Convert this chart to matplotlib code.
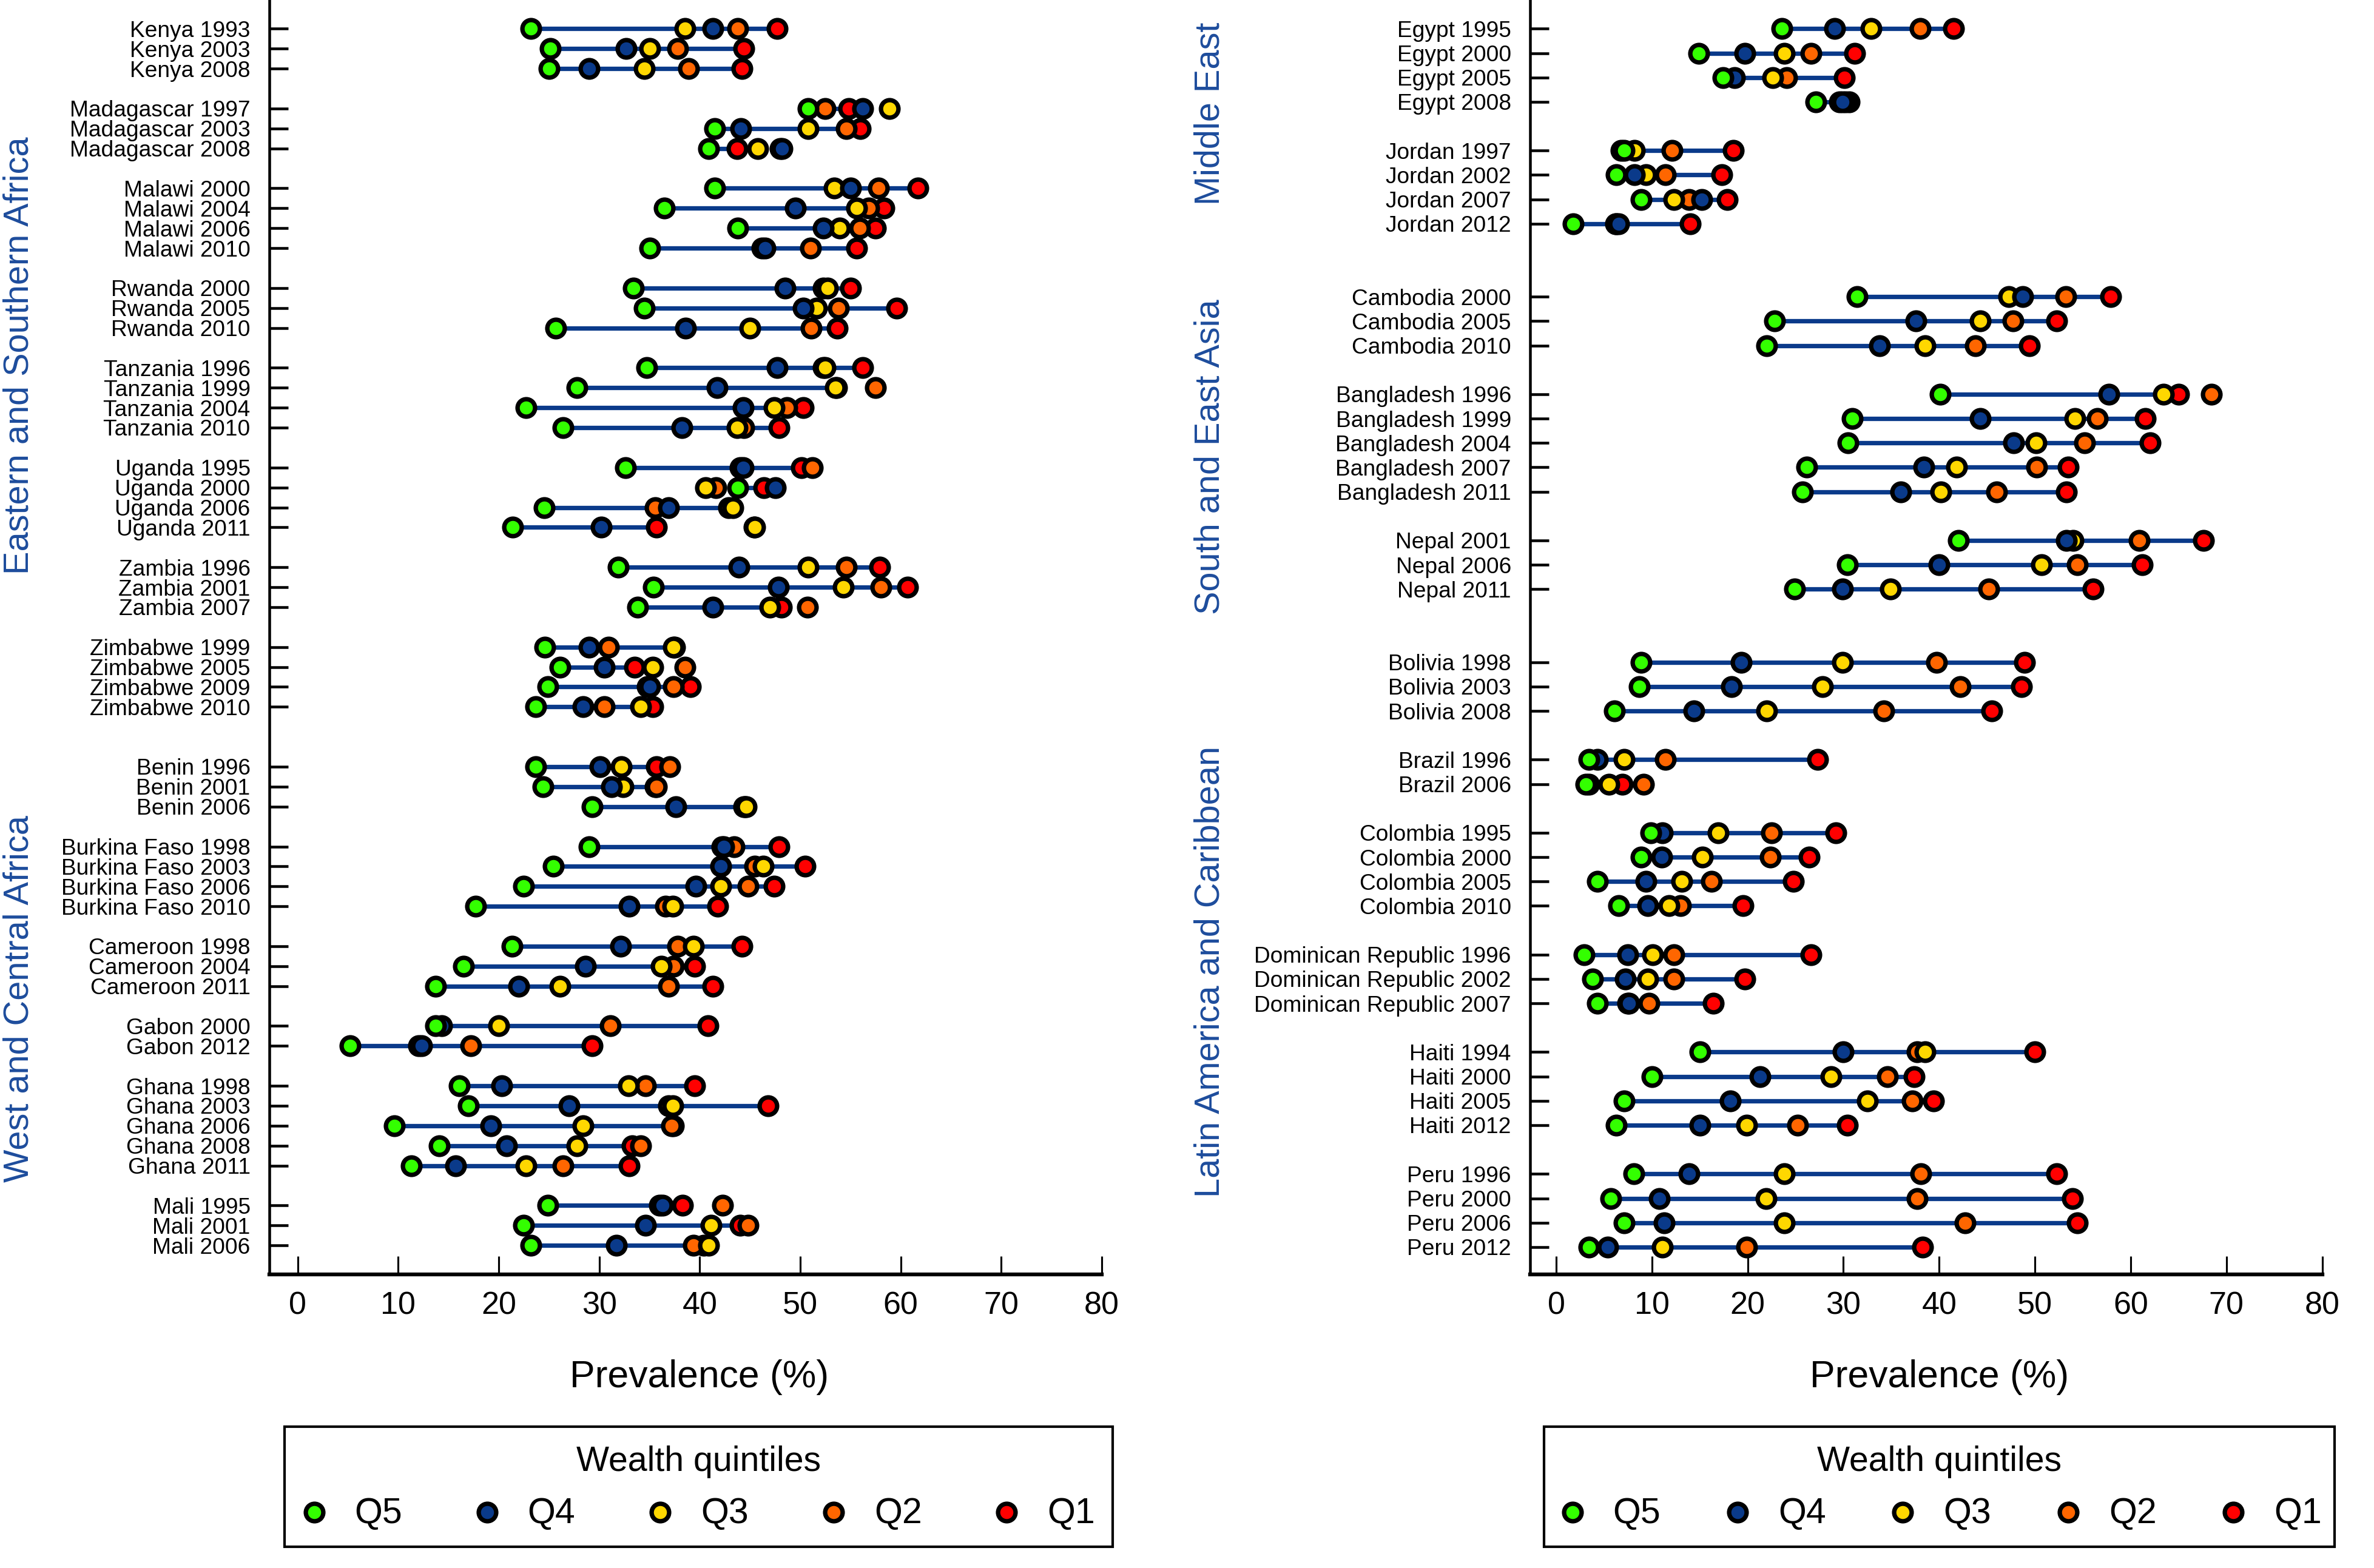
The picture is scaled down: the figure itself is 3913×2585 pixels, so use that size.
import matplotlib
matplotlib.use('Agg')
import matplotlib.pyplot as plt
from matplotlib.patches import Rectangle

plt.rcParams['font.family'] = ['Liberation Sans', 'DejaVu Sans']

# ---------------- data ----------------
quintile_names = ['Q5', 'Q4', 'Q3', 'Q2', 'Q1']
quintile_colors = ['#33ff00', '#0a3a8a', '#ffd700', '#ff6600', '#ff0000']

left_regions = ['Eastern and Southern Africa', 'West and Central Africa']
left_countries = [
    ['Kenya', 'Madagascar', 'Malawi', 'Rwanda', 'Tanzania', 'Uganda', 'Zambia', 'Zimbabwe'],
    ['Benin', 'Burkina Faso', 'Cameroon', 'Gabon', 'Ghana', 'Mali'],
]
left_years = {
    'Kenya': [1993, 2003, 2008], 'Madagascar': [1997, 2003, 2008],
    'Malawi': [2000, 2004, 2006, 2010], 'Rwanda': [2000, 2005, 2010],
    'Tanzania': [1996, 1999, 2004, 2010], 'Uganda': [1995, 2000, 2006, 2011],
    'Zambia': [1996, 2001, 2007], 'Zimbabwe': [1999, 2005, 2009, 2010],
    'Benin': [1996, 2001, 2006], 'Burkina Faso': [1998, 2003, 2006, 2010],
    'Cameroon': [1998, 2004, 2011], 'Gabon': [2000, 2012],
    'Ghana': [1998, 2003, 2006, 2008, 2011], 'Mali': [1995, 2001, 2006],
}
left_q5 = [23.2, 25.1, 25.0, 50.8, 41.5, 40.9, 41.5, 36.5, 43.8, 35.0, 33.4, 34.5, 25.7,
           34.7, 27.8, 22.7, 26.4, 32.6, 43.8, 24.5, 21.4, 31.9, 35.4, 33.8, 24.6, 26.1,
           24.9, 23.7, 23.7, 24.4, 29.3, 29.0, 25.4, 22.5, 17.7, 21.3, 16.5, 13.7, 13.7,
           5.2, 16.1, 17.0, 9.6, 14.1, 11.3, 24.9, 22.5, 23.2]
left_q4 = [41.3, 32.7, 29.0, 56.2, 44.1, 48.2, 55.0, 49.5, 52.3, 46.5, 48.5, 50.3, 38.6,
           47.7, 41.7, 44.3, 38.2, 44.3, 47.5, 36.9, 30.2, 43.9, 47.8, 41.3, 29.0, 30.5,
           35.0, 28.4, 30.1, 31.2, 37.6, 42.4, 42.1, 39.6, 33.0, 32.1, 28.6, 22.0, 14.3,
           12.3, 20.3, 27.0, 19.2, 20.8, 15.7, 36.3, 34.6, 31.7]
left_q3 = [38.5, 35.0, 34.5, 58.9, 50.8, 45.8, 53.4, 55.6, 53.9, 46.2, 52.7, 51.6, 45.0,
           52.5, 53.5, 47.4, 43.7, 44.0, 40.6, 43.3, 45.5, 50.8, 54.3, 47.0, 37.4, 35.3,
           34.8, 34.1, 32.2, 32.4, 44.6, 42.2, 46.3, 42.1, 37.3, 39.4, 36.2, 26.1, 20.0,
           12.0, 32.9, 37.3, 28.4, 27.8, 22.7, 36.0, 41.1, 40.9]
left_q2 = [43.8, 37.8, 38.9, 52.5, 54.6, 48.0, 57.8, 56.8, 55.9, 51.0, 52.3, 53.8, 51.1,
           52.3, 57.5, 48.7, 44.4, 51.2, 41.6, 35.6, 45.4, 54.6, 58.0, 50.7, 30.9, 38.5,
           37.4, 30.5, 37.0, 35.7, 44.5, 43.4, 45.5, 44.8, 36.6, 37.8, 37.4, 36.9, 31.1,
           17.2, 34.6, 36.9, 37.2, 34.1, 26.4, 42.3, 44.8, 39.4]
left_q1 = [47.7, 44.4, 44.2, 54.8, 56.0, 43.7, 61.7, 58.3, 57.5, 55.6, 55.0, 59.6, 53.7,
           56.2, 53.6, 50.3, 47.9, 50.1, 46.4, 42.9, 35.7, 57.9, 60.7, 48.1, 37.5, 33.5,
           39.1, 35.3, 35.7, 35.6, 44.4, 47.9, 50.5, 47.4, 41.8, 44.2, 39.5, 41.3, 40.8,
           29.3, 39.5, 46.8, 37.4, 33.3, 33.0, 38.3, 44.0, 40.4]

right_regions = ['Middle East', 'South and East Asia', 'Latin America and Caribbean']
right_countries = [
    ['Egypt', 'Jordan'],
    ['Cambodia', 'Bangladesh', 'Nepal'],
    ['Bolivia', 'Brazil', 'Colombia', 'Dominican Republic', 'Haiti', 'Peru'],
]
right_years = {
    'Egypt': [1995, 2000, 2005, 2008], 'Jordan': [1997, 2002, 2007, 2012],
    'Cambodia': [2000, 2005, 2010], 'Bangladesh': [1996, 1999, 2004, 2007, 2011],
    'Nepal': [2001, 2006, 2011], 'Bolivia': [1998, 2003, 2008], 'Brazil': [1996, 2006],
    'Colombia': [1995, 2000, 2005, 2010], 'Dominican Republic': [1996, 2002, 2007],
    'Haiti': [1994, 2000, 2005, 2012], 'Peru': [1996, 2000, 2006, 2012],
}
right_q5 = [23.6, 14.9, 17.4, 27.1, 7.1, 6.3, 8.9, 1.8, 31.4, 22.8, 22.0, 40.1, 30.9,
            30.5, 26.2, 25.7, 42.0, 30.4, 24.9, 8.9, 8.7, 6.1, 3.4, 3.1, 9.9, 8.9, 4.3,
            6.5, 2.9, 3.8, 4.3, 15.0, 10.0, 7.1, 6.3, 8.1, 5.7, 7.1, 3.4]
right_q4 = [29.1, 19.7, 18.6, 29.9, 6.8, 8.2, 15.2, 6.5, 48.7, 37.6, 33.8, 57.7, 44.3,
            47.8, 38.4, 36.0, 53.3, 40.0, 29.9, 19.3, 18.3, 14.4, 4.3, 3.4, 11.1, 11.0, 9.4,
            9.6, 7.5, 7.2, 7.6, 30.0, 21.3, 18.2, 15.0, 13.9, 10.8, 11.3, 5.4]
right_q3 = [32.9, 23.8, 22.6, 30.2, 8.2, 9.4, 12.3, 6.3, 47.3, 44.3, 38.5, 63.4, 54.2,
            50.1, 41.8, 40.2, 54.0, 50.7, 34.9, 29.9, 27.8, 22.0, 7.1, 5.5, 16.9, 15.3, 13.1,
            11.8, 10.1, 9.6, 7.5, 38.5, 28.7, 32.5, 19.9, 23.8, 21.9, 23.8, 11.1]
right_q2 = [38.0, 26.6, 24.1, 30.6, 12.1, 11.4, 13.9, 6.2, 53.2, 47.7, 43.8, 68.4, 56.5,
            55.2, 50.2, 46.0, 60.9, 54.4, 45.2, 39.7, 42.2, 34.2, 11.4, 9.1, 22.5, 22.4, 16.2,
            13.0, 12.3, 12.3, 9.7, 37.7, 34.6, 37.2, 25.2, 38.1, 37.7, 42.7, 19.9]
right_q1 = [41.5, 31.2, 30.1, 29.6, 18.5, 17.3, 17.9, 14.0, 57.9, 52.3, 49.4, 65.0, 61.5,
            62.0, 53.5, 53.3, 67.6, 61.2, 56.1, 48.9, 48.6, 45.5, 27.3, 6.9, 29.2, 26.4, 24.8,
            19.5, 26.6, 19.7, 16.4, 50.0, 37.4, 39.4, 30.4, 52.3, 53.9, 54.4, 38.3]

x_ticks = [0, 10, 20, 30, 40, 50, 60, 70, 80]
x_label = 'Prevalence (%)'
legend_title = 'Wealth quintiles'

# ---------------- helpers ----------------
W, H = 1568.0, 1036.0          # layout reference units (px of preview)
LINE_COLOR = '#0a3a8a'
REGION_COLOR = '#1d4c9c'


def fx(x):
    return x / W


def fy(y):
    return 1 - y / H


def build_rows(countries_by_region, years):
    pos, labels = [], []
    p = 0
    for ri, countries in enumerate(countries_by_region):
        if ri > 0:
            p += 2
        for ci, c in enumerate(countries):
            if ci > 0:
                p += 1
            for yr in years[c]:
                labels.append(f'{c} {yr}')
                pos.append(p)
                p += 1
    return pos, labels


def draw_panel(ax, countries, years, qs, ylim, xlim):
    pos, labels = build_rows(countries, years)
    q5, q4, q3, q2, q1 = qs
    ax.hlines(pos, q5, q1, colors=LINE_COLOR, lw=2.1, zorder=2)
    # draw poorest first so that Q5 ends on top
    for k in [4, 3, 2, 1, 0]:
        ax.plot(qs[k], pos, linestyle='none', marker='o', ms=8.3, mew=2.1,
                mec='black', mfc=quintile_colors[k], zorder=3 + (4 - k), clip_on=False)
    ax.set_ylim(*ylim)
    ax.set_xlim(*xlim)
    ax.set_yticks(pos)
    ax.set_yticklabels(labels)
    ax.set_xticks(x_ticks)
    ax.set_xticklabels([str(t) for t in x_ticks])
    ax.tick_params(axis='y', direction='in', length=9, width=1.3, pad=9, labelsize=10.7)
    ax.tick_params(axis='x', direction='in', length=8.6, width=0.9, pad=8, labelsize=15)
    for s in ['top', 'right']:
        ax.spines[s].set_visible(False)
    ax.spines['left'].set_linewidth(1.3)
    ax.spines['bottom'].set_linewidth(1.8)
    ax.set_facecolor('none')


fig = plt.figure(figsize=(3913 / 250, 2585 / 250), dpi=250)

axL = fig.add_axes([0.11344, 0.1873, 0.46409 - 0.11344, 1 - 0.1873])
axR = fig.add_axes([0.64452, 0.1873, 0.97818 - 0.64452, 1 - 0.1873])

draw_panel(axL, left_countries, left_years,
           [left_q5, left_q4, left_q3, left_q2, left_q1], (62.45, -1.44), (-2.83, 80))
draw_panel(axR, right_countries, right_years,
           [right_q5, right_q4, right_q3, right_q2, right_q1], (51.12, -1.18), (-2.72, 80))

# region labels
region_layout = [(left_regions[0], 12.5, 235), (left_regions[1], 12.5, 660),
                 (right_regions[0], 799.4, 75), (right_regions[1], 799.4, 302),
                 (right_regions[2], 799.4, 642)]
for name, x, y in region_layout:
    fig.text(fx(x), fy(y), name, rotation=90, ha='center', va='center',
             fontsize=16.6, color=REGION_COLOR)

# x labels
for cx in [462, 1281]:
    fig.text(fx(cx), fy(916.5), x_label, ha='center', va='baseline', fontsize=18)

# legends (drawn in an overlay in preview px units)
ov = fig.add_axes([0, 0, 1, 1])
ov.set_xlim(0, W)
ov.set_ylim(H, 0)
ov.axis('off')
ov.set_zorder(-1)

dy = 3.5
right_offsets = [18.6, 127.6, 236.7, 346.1, 455.0]
for (bx0, bx1) in [(188, 735), (1020, 1542)]:
    bw = bx1 - bx0
    ov.add_patch(Rectangle((bx0, 939 + dy), bw, 1018.5 - 939, fill=False,
                           edgecolor='black', lw=1.2))
    ov.text((bx0 + bx1) / 2, 968.4 + dy, legend_title, ha='center', va='baseline',
            fontsize=16.5)
    scale = bw / 522.0
    for k, name in enumerate(quintile_names):
        mx = bx0 + right_offsets[k] * scale
        ov.plot([mx], [995.8 + dy], linestyle='none', marker='o', ms=8.3, mew=2.1,
                mec='black', mfc=quintile_colors[k])
        ov.text(mx + 26.8, 1003 + dy, name, ha='left', va='baseline', fontsize=17)

fig.savefig('out.png', dpi=250)
